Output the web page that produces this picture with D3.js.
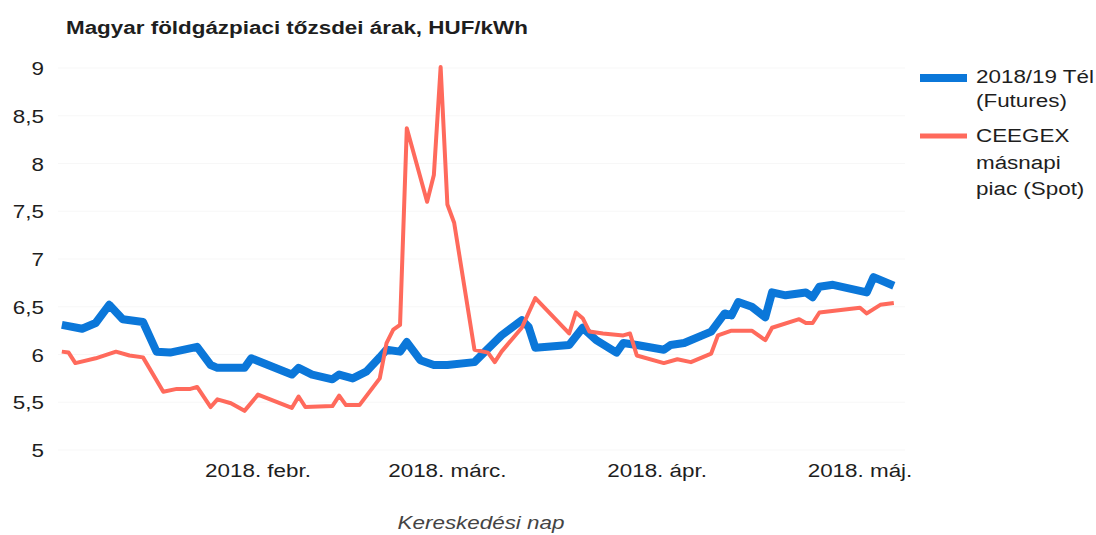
<!DOCTYPE html>
<html lang="hu">
<head>
  <meta charset="UTF-8">
  <title>Magyar földgázpiaci tőzsdei árak</title>
  <script src="https://cdnjs.cloudflare.com/ajax/libs/d3/7.6.1/d3.min.js"></script>
  <style>
    body { margin: 0; background: #fff; }
    text { font-family: "Liberation Sans", Arial, sans-serif; fill: #1e1e1e; }
    .title { font-weight: bold; font-size: 19px; }
    .tick-label { font-size: 19px; }
    .axis-title { font-size: 19px; font-style: italic; fill: #444; }
    .legend-text { font-size: 19px; }
    .grid { stroke: #f7f7f7; stroke-width: 1px; }
  </style>
</head>
<body>
<div id="wrapper"></div>
<script>

const chartTitle = "Magyar földgázpiaci tőzsdei árak, HUF/kWh";
const xTitle = "Kereskedési nap";
const yTicks = [5, 5.5, 6, 6.5, 7, 7.5, 8, 8.5, 9];
const monthTicks = ["2018-02-01", "2018-03-01", "2018-04-01", "2018-05-01"];
const monthLabels = ["2018. febr.", "2018. márc.", "2018. ápr.", "2018. máj."];
const seriesNames = ["2018/19 Tél\n(Futures)", "CEEGEX\nmásnapi\npiac (Spot)"];

// 2018/19 winter futures
const futures = [
  ["2018-01-03", 6.31], ["2018-01-06", 6.27], ["2018-01-08", 6.33], ["2018-01-10", 6.52],
  ["2018-01-12", 6.37], ["2018-01-15", 6.34], ["2018-01-17", 6.03], ["2018-01-19", 6.02],
  ["2018-01-23", 6.08], ["2018-01-25", 5.89], ["2018-01-26", 5.86], ["2018-01-30", 5.86],
  ["2018-01-31", 5.96], ["2018-02-06", 5.79], ["2018-02-07", 5.86], ["2018-02-09", 5.79],
  ["2018-02-12", 5.74], ["2018-02-13", 5.79], ["2018-02-15", 5.75], ["2018-02-17", 5.82],
  ["2018-02-19", 5.97], ["2018-02-20", 6.05], ["2018-02-22", 6.03], ["2018-02-23", 6.13],
  ["2018-02-25", 5.94], ["2018-02-27", 5.89], ["2018-03-01", 5.89], ["2018-03-05", 5.92],
  ["2018-03-06", 5.99], ["2018-03-09", 6.20], ["2018-03-12", 6.36], ["2018-03-13", 6.29],
  ["2018-03-14", 6.07], ["2018-03-19", 6.10], ["2018-03-21", 6.28], ["2018-03-23", 6.15],
  ["2018-03-26", 6.02], ["2018-03-27", 6.12], ["2018-03-29", 6.10], ["2018-04-02", 6.05],
  ["2018-04-03", 6.10], ["2018-04-05", 6.12], ["2018-04-09", 6.24], ["2018-04-11", 6.43],
  ["2018-04-12", 6.41], ["2018-04-13", 6.55], ["2018-04-15", 6.50], ["2018-04-17", 6.39],
  ["2018-04-18", 6.65], ["2018-04-20", 6.62], ["2018-04-23", 6.65], ["2018-04-24", 6.60],
  ["2018-04-25", 6.71], ["2018-04-27", 6.73], ["2018-05-02", 6.65], ["2018-05-03", 6.81],
  ["2018-05-06", 6.72]
];

// CEEGEX day-ahead spot
const spot = [
  ["2018-01-03", 6.03], ["2018-01-04", 6.02], ["2018-01-05", 5.91], ["2018-01-08", 5.96],
  ["2018-01-11", 6.03], ["2018-01-13", 5.99], ["2018-01-15", 5.97], ["2018-01-18", 5.61],
  ["2018-01-20", 5.64], ["2018-01-22", 5.64], ["2018-01-23", 5.66], ["2018-01-25", 5.45],
  ["2018-01-26", 5.53], ["2018-01-28", 5.49], ["2018-01-30", 5.41], ["2018-02-01", 5.58],
  ["2018-02-06", 5.44], ["2018-02-07", 5.56], ["2018-02-08", 5.45], ["2018-02-12", 5.46],
  ["2018-02-13", 5.57], ["2018-02-14", 5.47], ["2018-02-16", 5.47], ["2018-02-19", 5.75],
  ["2018-02-20", 6.12], ["2018-02-21", 6.26], ["2018-02-22", 6.31], ["2018-02-23", 8.37],
  ["2018-02-26", 7.60], ["2018-02-27", 7.88], ["2018-02-28", 9.01], ["2018-03-01", 7.57],
  ["2018-03-02", 7.38], ["2018-03-05", 6.05], ["2018-03-07", 6.02], ["2018-03-08", 5.92],
  ["2018-03-09", 6.03], ["2018-03-12", 6.28], ["2018-03-14", 6.59], ["2018-03-19", 6.22],
  ["2018-03-20", 6.44], ["2018-03-21", 6.38], ["2018-03-22", 6.24], ["2018-03-24", 6.22],
  ["2018-03-27", 6.20], ["2018-03-28", 6.22], ["2018-03-29", 5.99], ["2018-04-02", 5.91],
  ["2018-04-04", 5.95], ["2018-04-06", 5.92], ["2018-04-09", 6.01], ["2018-04-10", 6.20],
  ["2018-04-12", 6.25], ["2018-04-15", 6.25], ["2018-04-17", 6.15], ["2018-04-18", 6.28],
  ["2018-04-22", 6.37], ["2018-04-23", 6.33], ["2018-04-24", 6.33], ["2018-04-25", 6.44],
  ["2018-05-01", 6.49], ["2018-05-02", 6.43], ["2018-05-04", 6.52], ["2018-05-06", 6.54]
];

const parse = d3.utcParse("%Y-%m-%d");
const stretch = 1.18;   // the source picture is stretched horizontally

const width = 1096, height = 535;

const svg = d3.select("#wrapper")
    .append("svg")
    .attr("width", width)
    .attr("height", height);

const x = d3.scaleUtc()
    .domain([parse("2018-02-01"), parse("2018-05-01")])
    .range([258, 860]);

const y = d3.scaleLinear()
    .domain([5, 9])
    .range([450, 68]);

function stretchedText(g, px, py, str, cls, anchor) {
    return g.append("text")
        .attr("class", cls)
        .attr("transform", `translate(${px},${py}) scale(${stretch},1)`)
        .style("text-anchor", anchor || "start")
        .text(str);
}

// title
stretchedText(svg, 66, 34, chartTitle, "title");

// gridlines
svg.append("g")
    .selectAll("line")
    .data(yTicks)
    .enter()
    .append("line")
    .attr("class", "grid")
    .attr("x1", 58)
    .attr("x2", 905)
    .attr("y1", d => y(d))
    .attr("y2", d => y(d));

// y tick labels
const yLab = svg.append("g");
yTicks.forEach(v => {
    stretchedText(yLab, 44, y(v) + 7, String(v).replace(".", ","), "tick-label", "end");
});

// x tick labels
const xLab = svg.append("g");
monthTicks.forEach((m, i) => {
    stretchedText(xLab, x(parse(m)), 477, monthLabels[i], "tick-label", "middle");
});

stretchedText(svg, 481, 529, xTitle, "axis-title", "middle");

// lines
const line = d3.line()
    .x(d => x(parse(d[0])))
    .y(d => y(d[1]));

svg.append("path")
    .datum(futures)
    .attr("d", line)
    .attr("fill", "none")
    .attr("stroke", "#0b77d9")
    .attr("stroke-width", 8)
    .attr("stroke-linejoin", "round");

svg.append("path")
    .datum(spot)
    .attr("d", line)
    .attr("fill", "none")
    .attr("stroke", "#ff6a5c")
    .attr("stroke-width", 4)
    .attr("stroke-linejoin", "round");

// legend
const legend = svg.append("g");
legend.append("line")
    .attr("x1", 920).attr("x2", 967)
    .attr("y1", 78).attr("y2", 78)
    .attr("stroke", "#0b77d9")
    .attr("stroke-width", 8);
legend.append("line")
    .attr("x1", 920).attr("x2", 967)
    .attr("y1", 136).attr("y2", 136)
    .attr("stroke", "#ff6a5c")
    .attr("stroke-width", 5);

const legendRows = [[83, 107], [142, 169, 195]];
seriesNames.forEach((name, i) => {
    name.split("\n").forEach((part, j) => {
        stretchedText(legend, 976, legendRows[i][j], part, "legend-text");
    });
});

</script>
</body>
</html>
